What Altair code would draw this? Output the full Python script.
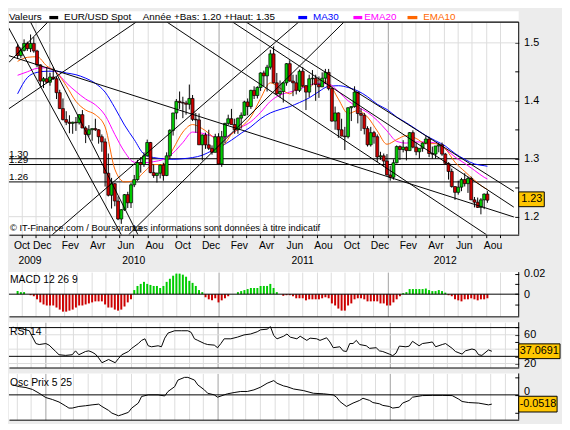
import altair as alt
import pandas as pd

FONT = "Liberation Sans"
W = 518
H_MAIN, H_MACD, H_RSI, H_OSC = 216, 45, 46, 47
GOLD = "#FFC600"
GREEN, RED = "#00cc00", "#cc0000"

# ---------------- data ----------------
first_week = "2009-10-24"
n_weeks = 146

opens = [1.4930, 1.4780, 1.4870, 1.4990, 1.4900, 1.4990, 1.4860, 1.4620, 1.4340, 1.4380,
         1.4320, 1.4410, 1.4380, 1.4140, 1.3865, 1.3675, 1.3630, 1.3610, 1.3630, 1.3620,
         1.3760, 1.3530, 1.3420, 1.3500, 1.3520, 1.3500, 1.3380, 1.3290, 1.2750, 1.2370,
         1.2570, 1.2270, 1.1960, 1.2120, 1.2380, 1.2240, 1.2550, 1.2640, 1.2935, 1.2900,
         1.3050, 1.3280, 1.2760, 1.2710, 1.2750, 1.2890, 1.2710, 1.3050, 1.3490, 1.3790,
         1.3990, 1.3970, 1.3960, 1.3940, 1.4040, 1.3680, 1.3670, 1.3240, 1.3410, 1.3240,
         1.3180, 1.3110, 1.3380, 1.2910, 1.3380, 1.3610, 1.3690, 1.3590, 1.3500, 1.3700,
         1.3750, 1.3980, 1.3900, 1.4180, 1.4090, 1.4230, 1.4480, 1.4430, 1.4580, 1.4810,
         1.4310, 1.4120, 1.4160, 1.4310, 1.4640, 1.4340, 1.4310, 1.4180, 1.4510, 1.4260,
         1.4150, 1.4380, 1.4390, 1.4280, 1.4240, 1.4390, 1.4490, 1.4210, 1.3650, 1.3790,
         1.3500, 1.3390, 1.3380, 1.3880, 1.3900, 1.4150, 1.3780, 1.3750, 1.3520, 1.3240,
         1.3450, 1.3380, 1.3030, 1.3050, 1.2960, 1.2720, 1.2680, 1.2930, 1.3210, 1.3160,
         1.3200, 1.3140, 1.3450, 1.3200, 1.3120, 1.3180, 1.3270, 1.3340, 1.3090, 1.3080,
         1.3220, 1.3240, 1.3080, 1.2920, 1.2780, 1.2520, 1.2420, 1.2510, 1.2640, 1.2570,
         1.2660, 1.2290, 1.2250, 1.2160, 1.2290, 1.2390]
closes = [1.4780, 1.4870, 1.4990, 1.4900, 1.4990, 1.4860, 1.4620, 1.4340, 1.4380, 1.4320,
          1.4410, 1.4380, 1.4140, 1.3865, 1.3675, 1.3630, 1.3610, 1.3630, 1.3620, 1.3760,
          1.3530, 1.3420, 1.3500, 1.3520, 1.3500, 1.3380, 1.3290, 1.2750, 1.2370, 1.2570,
          1.2270, 1.1960, 1.2120, 1.2380, 1.2240, 1.2550, 1.2640, 1.2935, 1.2900, 1.3050,
          1.3280, 1.2760, 1.2710, 1.2750, 1.2890, 1.2710, 1.3050, 1.3490, 1.3790, 1.3990,
          1.3970, 1.3960, 1.3940, 1.4040, 1.3680, 1.3670, 1.3240, 1.3410, 1.3240, 1.3180,
          1.3110, 1.3380, 1.2910, 1.3380, 1.3610, 1.3690, 1.3590, 1.3500, 1.3700, 1.3750,
          1.3980, 1.3900, 1.4180, 1.4090, 1.4230, 1.4480, 1.4430, 1.4580, 1.4810, 1.4310,
          1.4120, 1.4160, 1.4310, 1.4640, 1.4340, 1.4310, 1.4180, 1.4510, 1.4260, 1.4150,
          1.4380, 1.4390, 1.4280, 1.4240, 1.4390, 1.4490, 1.4210, 1.3650, 1.3790, 1.3500,
          1.3390, 1.3380, 1.3880, 1.3900, 1.4150, 1.3780, 1.3750, 1.3520, 1.3240, 1.3450,
          1.3380, 1.3030, 1.3050, 1.2960, 1.2720, 1.2680, 1.2930, 1.3210, 1.3160, 1.3200,
          1.3140, 1.3450, 1.3200, 1.3120, 1.3180, 1.3270, 1.3340, 1.3090, 1.3080, 1.3220,
          1.3240, 1.3080, 1.2920, 1.2780, 1.2520, 1.2420, 1.2510, 1.2640, 1.2570, 1.2660,
          1.2290, 1.2250, 1.2160, 1.2290, 1.2390, 1.2285]
highs = [1.4980, 1.4920, 1.5060, 1.5020, 1.5144, 1.5100, 1.4880, 1.4630, 1.4410, 1.4580,
         1.4480, 1.4580, 1.4410, 1.4190, 1.4040, 1.3820, 1.3750, 1.3640, 1.3720, 1.3770,
         1.3840, 1.3560, 1.3580, 1.3520, 1.3690, 1.3510, 1.3420, 1.3350, 1.3090, 1.2670,
         1.2580, 1.2350, 1.2130, 1.2390, 1.2430, 1.2580, 1.2720, 1.2980, 1.3030, 1.3110,
         1.3330, 1.3290, 1.2900, 1.2760, 1.2900, 1.2930, 1.3110, 1.3510, 1.3790, 1.4030,
         1.4160, 1.4070, 1.4000, 1.4280, 1.4100, 1.3790, 1.3780, 1.3420, 1.3450, 1.3500,
         1.3230, 1.3430, 1.3440, 1.3480, 1.3620, 1.3760, 1.3860, 1.3690, 1.3710, 1.3800,
         1.4000, 1.4040, 1.4190, 1.4250, 1.4250, 1.4490, 1.4520, 1.4620, 1.4880, 1.4940,
         1.4480, 1.4350, 1.4320, 1.4650, 1.4700, 1.4450, 1.4450, 1.4540, 1.4580, 1.4270,
         1.4450, 1.4530, 1.4450, 1.4420, 1.4490, 1.4550, 1.4550, 1.4220, 1.3900, 1.3800,
         1.3690, 1.3550, 1.3890, 1.3900, 1.4250, 1.4150, 1.3870, 1.3790, 1.3560, 1.3550,
         1.3480, 1.3420, 1.3120, 1.3090, 1.3080, 1.2880, 1.2990, 1.3230, 1.3230, 1.3320,
         1.3210, 1.3460, 1.3490, 1.3280, 1.3180, 1.3280, 1.3390, 1.3380, 1.3210, 1.3220,
         1.3270, 1.3280, 1.3100, 1.2940, 1.2830, 1.2520, 1.2620, 1.2670, 1.2750, 1.2690,
         1.2690, 1.2340, 1.2330, 1.2320, 1.2400, 1.2440]
lows = [1.4720, 1.4740, 1.4850, 1.4860, 1.4840, 1.4830, 1.4580, 1.4250, 1.4220, 1.4300,
        1.4260, 1.4360, 1.4030, 1.3860, 1.3660, 1.3580, 1.3440, 1.3430, 1.3480, 1.3590,
        1.3530, 1.3270, 1.3380, 1.3310, 1.3480, 1.3260, 1.3120, 1.2520, 1.2350, 1.2140,
        1.2180, 1.1940, 1.1876, 1.2100, 1.2150, 1.2150, 1.2510, 1.2620, 1.2760, 1.2860,
        1.3040, 1.2750, 1.2670, 1.2590, 1.2660, 1.2620, 1.2700, 1.3000, 1.3400, 1.3680,
        1.3860, 1.3700, 1.3760, 1.3850, 1.3650, 1.3450, 1.3240, 1.2970, 1.3170, 1.3150,
        1.3070, 1.3110, 1.2900, 1.2860, 1.3270, 1.3580, 1.3590, 1.3430, 1.3430, 1.3520,
        1.3740, 1.3750, 1.3860, 1.4030, 1.4040, 1.4170, 1.4250, 1.4160, 1.4540, 1.4300,
        1.4100, 1.4060, 1.3970, 1.4260, 1.4330, 1.4080, 1.4110, 1.4150, 1.4230, 1.3840,
        1.4060, 1.4270, 1.4000, 1.4050, 1.4240, 1.4290, 1.4180, 1.3640, 1.3500, 1.3360,
        1.3390, 1.3150, 1.3350, 1.3650, 1.3880, 1.3610, 1.3480, 1.3420, 1.3210, 1.3210,
        1.3260, 1.2940, 1.2980, 1.2860, 1.2710, 1.2620, 1.2640, 1.2920, 1.2980, 1.3110,
        1.2970, 1.3140, 1.3180, 1.3060, 1.3000, 1.3120, 1.3250, 1.3030, 1.3000, 1.3000,
        1.3110, 1.3050, 1.2910, 1.2640, 1.2500, 1.2290, 1.2380, 1.2440, 1.2520, 1.2410,
        1.2290, 1.2160, 1.2150, 1.2040, 1.2130, 1.2240]

# moving averages read every 3 weeks
ma_weeks = list(range(0, 145, 3)) + [145]
ma30 = [1.412, 1.440, 1.449, 1.451, 1.451, 1.448, 1.445, 1.439, 1.430, 1.415,
        1.388, 1.358, 1.333, 1.308, 1.302, 1.300, 1.299, 1.300, 1.302, 1.306,
        1.314, 1.322, 1.332, 1.344, 1.355, 1.369, 1.379, 1.385, 1.390, 1.397,
        1.405, 1.416, 1.425, 1.426, 1.423, 1.417, 1.407, 1.394, 1.385, 1.372,
        1.362, 1.351, 1.340, 1.331, 1.322, 1.309, 1.299, 1.291, 1.288, 1.287]
ema20 = [1.444, 1.450, 1.456, 1.457, 1.449, 1.431, 1.416, 1.403, 1.393, 1.375,
         1.342, 1.312, 1.294, 1.293, 1.295, 1.299, 1.310, 1.328, 1.346, 1.344,
         1.339, 1.335, 1.343, 1.354, 1.364, 1.380, 1.399, 1.410, 1.415, 1.420,
         1.427, 1.430, 1.429, 1.416, 1.400, 1.389, 1.380, 1.366, 1.348, 1.330,
         1.327, 1.329, 1.329, 1.327, 1.317, 1.303, 1.292, 1.280, 1.268, 1.265]
ema10 = [1.468, 1.475, 1.476, 1.460, 1.449, 1.426, 1.399, 1.384, 1.376, 1.355,
         1.282, 1.260, 1.262, 1.277, 1.290, 1.290, 1.317, 1.346, 1.359, 1.352,
         1.339, 1.322, 1.342, 1.355, 1.372, 1.404, 1.431, 1.422, 1.412, 1.425,
         1.424, 1.436, 1.430, 1.403, 1.378, 1.383, 1.372, 1.348, 1.325, 1.333,
         1.340, 1.335, 1.326, 1.326, 1.317, 1.294, 1.278, 1.263, 1.250, 1.247]

macd_hist = [0.003, 0.002, 0.002, 0.0, -0.001, -0.002, -0.005, -0.008, -0.010, -0.011,
             -0.011, -0.011, -0.013, -0.015, -0.017, -0.017, -0.016, -0.015, -0.013, -0.011,
             -0.011, -0.010, -0.009, -0.008, -0.007, -0.007, -0.007, -0.010, -0.013, -0.013,
             -0.015, -0.016, -0.015, -0.012, -0.008, -0.005, 0.004, 0.008, 0.010, 0.012,
             0.010, 0.009, 0.008, 0.008, 0.006, 0.008, 0.012, 0.015, 0.018, 0.020,
             0.020, 0.019, 0.017, 0.013, 0.011, 0.008, 0.004, 0.002, -0.003, -0.005,
             -0.006, -0.004, -0.008, -0.006, -0.004, -0.002, 0.0, 0.0, 0.002, 0.003,
             0.004, 0.005, 0.006, 0.006, 0.006, 0.008, 0.008, 0.008, 0.010, 0.006,
             0.002, 0.0, -0.0016, -0.001, -0.001, -0.002, -0.004, -0.004, -0.004, -0.006,
             -0.005, -0.005, -0.005, -0.005, -0.004, -0.003, -0.004, -0.009, -0.011, -0.014,
             -0.016, -0.016, -0.011, -0.009, -0.005, -0.004, -0.004, -0.005, -0.007, -0.007,
             -0.007, -0.007, -0.009, -0.009, -0.011, -0.011, -0.008, -0.005, -0.002, 0.001,
             0.002, 0.005, 0.005, 0.005, 0.005, 0.005, 0.0055, 0.004, 0.003, 0.003,
             0.004, 0.003, 0.0015, -0.001, -0.002, -0.005, -0.006, -0.007, -0.005, -0.005,
             -0.004, -0.005, -0.006, -0.005, -0.005, -0.004]

rsi_weeks = [0, 3, 5, 7, 8, 10, 11, 13, 14, 16, 18, 19, 20, 21, 22, 23, 24, 25, 26, 27,
             28, 29, 31, 32, 33, 35, 36, 38, 39, 40, 41, 42, 44, 45, 46, 47, 49, 51, 53, 54,
             55, 56, 58, 59, 61, 62, 63, 64, 66, 68, 70, 72, 74, 75, 77, 78, 79, 80, 82, 83,
             84, 86, 87, 89, 90, 92, 93, 95, 96, 97, 99, 100, 101, 102, 103, 104, 105, 107, 108, 110,
             111, 112, 114, 115, 116, 117, 119, 120, 121, 123, 124, 126, 127, 128, 130, 131, 133, 134, 136, 137,
             139, 140, 141, 142, 144, 145]
rsi_vals = [70.5, 68.0, 65.6, 47.8, 46.4, 47.8, 45.6, 36.7, 32.2, 31.3,
            32.2, 37.6, 32.2, 34.4, 36.7, 37.6, 35.8, 33.1, 27.8, 21.1,
            23.3, 25.6, 21.1, 26.9, 32.2, 36.7, 41.1, 47.8, 52.2, 54.4,
            44.7, 43.3, 44.7, 43.3, 55.3, 62.4, 65.6, 65.6, 65.6, 63.3,
            54.4, 52.2, 47.8, 46.4, 45.6, 42.0, 47.8, 54.4, 54.4, 56.7,
            59.8, 61.1, 64.2, 66.9, 67.8, 71.3, 58.9, 54.4, 58.0, 61.1,
            56.7, 54.4, 58.0, 52.2, 55.3, 54.4, 52.2, 55.8, 50.0, 42.0,
            43.3, 37.6, 36.7, 47.8, 47.8, 52.2, 46.4, 44.7, 41.1, 42.0,
            37.6, 36.7, 33.1, 30.9, 34.4, 44.2, 43.3, 44.2, 50.9, 44.7,
            47.8, 49.1, 50.0, 43.3, 46.4, 47.8, 41.1, 36.7, 33.1, 37.6,
            40.2, 38.9, 32.2, 31.3, 38.9, 37.07]

osc_weeks = [0, 2, 4, 6, 8, 10, 12, 14, 16, 17, 18, 20, 22, 24, 26, 27, 29, 30, 32, 33,
             35, 36, 38, 39, 41, 44, 46, 47, 49, 50, 52, 53, 55, 56, 58, 59, 61, 62, 64, 65,
             67, 69, 71, 73, 75, 77, 79, 80, 82, 83, 85, 88, 91, 94, 97, 98, 99, 101, 103, 105,
             106, 108, 109, 111, 112, 114, 115, 117, 118, 120, 121, 124, 127, 130, 133, 135, 136, 138, 141, 144,
             145]
osc_vals = [0.056, 0.046, 0.041, 0.030, 0.009, -0.015, -0.026, -0.040, -0.062, -0.074,
            -0.074, -0.065, -0.061, -0.056, -0.052, -0.065, -0.087, -0.102, -0.117, -0.111,
            -0.098, -0.074, -0.046, -0.009, 0.0, 0.0, -0.006, 0.019, 0.046, 0.083,
            0.098, 0.098, 0.083, 0.056, 0.028, 0.009, 0.0, -0.013, 0.0, 0.006,
            0.013, 0.019, 0.019, 0.028, 0.043, 0.065, 0.080, 0.065, 0.050, 0.046,
            0.033, 0.024, 0.009, 0.006, 0.0, -0.013, -0.037, -0.065, -0.046, -0.031,
            -0.019, -0.031, -0.043, -0.050, -0.059, -0.065, -0.074, -0.069, -0.046, -0.031,
            -0.013, -0.004, -0.003, -0.003, -0.004, -0.024, -0.037, -0.043, -0.046, -0.056,
            -0.0518]

levels = [1.30, 1.29, 1.26]
level_text = ["1.30", "1.29", "1.26"]

# trend lines: start / end (date, price)
tl_d1 = ["2009-09-28", "2009-11-20", "2009-10-05", "2009-10-05", "2009-10-05",
         "2010-01-07", "2010-06-21", "2010-09-12", "2011-03-02", "2011-02-01"]
tl_p1 = [1.5357, 1.5374, 1.4779, 1.3862, 1.4660, 1.1689, 1.1689, 1.5357, 1.5357, 1.5357]
tl_d2 = ["2010-06-05", "2010-07-11", "2012-09-30", "2010-07-07", "2009-12-28",
         "2011-06-23", "2011-09-29", "2012-08-02", "2012-09-30", "2012-09-30"]
tl_p2 = [1.1689, 1.1689, 1.1995, 1.5357, 1.5357, 1.5357, 1.5357, 1.1689, 1.2436, 1.2165]

first_month_label = ("2009-10-16", "Oct")
month_label_dates = ["2009-12-16", "2010-02-15", "2010-04-15", "2010-06-15", "2010-08-16",
                     "2010-10-16", "2010-12-16", "2011-02-15", "2011-04-15", "2011-06-15", "2011-08-16",
                     "2011-10-16", "2011-12-16", "2012-02-15", "2012-04-15", "2012-06-15", "2012-08-16"]
month_label_text = ["Dec", "Fev", "Avr", "Jun", "Aou"] + ["Oct", "Dec", "Fev", "Avr", "Jun", "Aou"] * 2
year_label_dates = ["2009-11-20", "2010-07-02", "2011-07-02", "2012-05-05"]
year_label_text = ["2009", "2010", "2011", "2012"]

last_price, last_price_text = 1.23, "1.23"
last_rsi, last_rsi_text = 37.0691, "37.0691"
last_osc, last_osc_text = -0.0518, "-0.0518"

# ---------------- tables ----------------
weeks = pd.date_range(first_week, periods=n_weeks, freq="7D").strftime("%Y-%m-%d").tolist()
candles = pd.DataFrame({"date": weeks, "open": opens, "high": highs, "low": lows, "close": closes})

ma_date = [weeks[k] for k in ma_weeks]
ma30_df = pd.DataFrame({"date": ma_date, "value": ma30})
ema20_df = pd.DataFrame({"date": ma_date, "value": ema20})
ema10_df = pd.DataFrame({"date": ma_date, "value": ema10})
macd_df = pd.DataFrame({"date": weeks, "v": macd_hist})
rsi_df = pd.DataFrame({"date": [weeks[k] for k in rsi_weeks], "v": rsi_vals})
osc_df = pd.DataFrame({"date": [weeks[k] for k in osc_weeks], "v": osc_vals})
lev_df = pd.DataFrame({"v": levels, "t": level_text})
tl_df = pd.DataFrame({"d1": tl_d1, "p1": tl_p1, "d2": tl_d2, "p2": tl_p2})
mlab0_df = pd.DataFrame({"date": [first_month_label[0]], "t": [first_month_label[1]]})
mlab_df = pd.DataFrame({"date": month_label_dates, "t": month_label_text})
ylab_df = pd.DataFrame({"date": year_label_dates, "t": year_label_text})
ONE = pd.DataFrame({"one": [0]})

# ---------------- scales / axes ----------------
X_SCALE = alt.Scale(type="utc", domain=[alt.DateTime(year=2009, month=10, date=16, utc=True),
                                        alt.DateTime(year=2012, month=9, date=30, utc=True)])
grid_months = [alt.DateTime(year=y, month=m, date=1, utc=True)
               for y in range(2009, 2013) for m in range(1, 13)
               if (2009, 11) <= (y, m) <= (2012, 9)]
GRID_COLOR = {"condition": {"test": "utcmonth(datum.value) === 0", "value": "#a0a0a0"},
              "value": "#dcdcdc"}


def x_axis(ticks):
    return alt.Axis(values=grid_months, grid=True, gridColor=GRID_COLOR, gridWidth=1,
                    labels=False, ticks=ticks, tickSize=3, tickColor="black",
                    domain=True, domainColor="black", domainWidth=1, title=None)


AX_MAIN = x_axis(True)
AX_SUB = x_axis(False)


def X(field, ax):
    return alt.X(f"{field}:T", scale=X_SCALE, axis=ax)


def y_axis(values, label_expr, baseline="middle"):
    return alt.Axis(orient="right", values=values, labelExpr=label_expr, tickSize=4,
                    tickColor="black", offset=-4, domain=False, grid=False, labelPadding=5,
                    labelFont=FONT, labelFontSize=11, labelColor="black", labelBaseline=baseline,
                    title=None)


Y_MAIN_SCALE = alt.Scale(domain=[1.1689, 1.5357], nice=False, zero=False)
Y_MAIN_AXIS = y_axis([1.2, 1.25, 1.3, 1.35, 1.4, 1.45, 1.5],
                     "abs(datum.value*10 - round(datum.value*10)) < 0.001 ? format(datum.value, '.1f') : ''")
Y_MACD_SCALE = alt.Scale(domain=[-0.0216, 0.0215], nice=False, zero=False)
Y_MACD_AXIS = y_axis([-0.01, 0, 0.01, 0.02],
                     "datum.value == 0.02 ? '0.02' : (datum.value == 0 ? '0' : '')")
Y_RSI_SCALE = alt.Scale(domain=[14.4, 77.4], nice=False, zero=False)
Y_RSI_AXIS = y_axis([20, 30, 40, 50, 60, 70],
                    "(datum.value == 20 || datum.value == 60) ? format(datum.value, 'd') : ''")
Y_OSC_SCALE = alt.Scale(domain=[-0.139, 0.12], nice=False, zero=False)
Y_OSC_AXIS = y_axis([-0.1, 0, 0.1], "datum.value == 0 ? '0' : ''", baseline="alphabetic")


def Y(field, scale, ax):
    return alt.Y(f"{field}:Q", scale=scale, axis=ax)


def ptext(txt, x, y, size=10, color="black"):
    return alt.Chart(ONE).mark_text(text=txt, font=FONT, fontSize=size, color=color,
                                    align="left", baseline="alphabetic").encode(
        x=alt.value(x), y=alt.value(y))


def swatch(x1, x2, color):
    return alt.Chart(ONE).mark_rect(color=color).encode(
        x=alt.value(x1), x2=alt.value(x2), y=alt.value(-6.3), y2=alt.value(-3))


def right_border(h):
    return alt.Chart(ONE).mark_rule(color="black", strokeWidth=1).encode(
        x=alt.value(W), y=alt.value(0), y2=alt.value(h))


def value_box(value, text, w, h, cx, tx, scale, ax):
    df = pd.DataFrame({"v": [value], "t": [text]})
    r = h / w
    path = f"M-1,{-r:.3f}L1,{-r:.3f}L1,{r:.3f}L-1,{r:.3f}Z"
    box = alt.Chart(df).mark_point(shape=path, size=w * w, filled=True, fill=GOLD, color=GOLD,
                                   stroke="black", strokeWidth=1, opacity=1).encode(
        x=alt.value(cx), y=Y("v", scale, ax))
    lab = alt.Chart(df).mark_text(font=FONT, fontSize=11, color="black", align="left",
                                  baseline="middle").encode(
        x=alt.value(tx), y=Y("v", scale, ax), text="t:N")
    return box + lab


def ma_line(df, color):
    return alt.Chart(df).mark_line(strokeWidth=1, clip=True, interpolate="monotone", color=color).encode(
        x=X("date", AX_MAIN), y=Y("value", Y_MAIN_SCALE, Y_MAIN_AXIS))


# ---------------- main panel ----------------
hgrid = alt.Chart(pd.DataFrame({"v": [1.2, 1.3, 1.4, 1.5]})).mark_rule(color="#dcdcdc").encode(
    y=Y("v", Y_MAIN_SCALE, Y_MAIN_AXIS))
lev_text = alt.Chart(lev_df).mark_text(font=FONT, fontSize=10, align="left", baseline="alphabetic",
                                       dy=-2, color="black").encode(
    x=alt.value(0), y=Y("v", Y_MAIN_SCALE, Y_MAIN_AXIS), text="t:N")
lev_rules = alt.Chart(lev_df).mark_rule(color="black", strokeWidth=1).encode(
    y=Y("v", Y_MAIN_SCALE, Y_MAIN_AXIS))
wicks = alt.Chart(candles).mark_rule(color="black", strokeWidth=1).encode(
    x=X("date", AX_MAIN), y=Y("low", Y_MAIN_SCALE, Y_MAIN_AXIS), y2="high:Q")
bodies = alt.Chart(candles).mark_bar(size=3, stroke="black", strokeWidth=0.7).encode(
    x=X("date", AX_MAIN), y=Y("open", Y_MAIN_SCALE, Y_MAIN_AXIS), y2="close:Q",
    color=alt.condition("datum.close >= datum.open", alt.value(GREEN), alt.value(RED)))
trend = alt.Chart(tl_df).mark_rule(color="black", strokeWidth=1, clip=True).encode(
    x=X("d1", AX_MAIN), x2="d2:T", y=Y("p1", Y_MAIN_SCALE, Y_MAIN_AXIS), y2="p2:Q")
mlabel0 = alt.Chart(mlab0_df).mark_text(font=FONT, fontSize=10.5, color="black", baseline="middle",
                                        align="left").encode(
    x=X("date", AX_MAIN), y=alt.value(H_MAIN + 12), text="t:N")
mlabels = alt.Chart(mlab_df).mark_text(font=FONT, fontSize=10.5, color="black", baseline="middle").encode(
    x=X("date", AX_MAIN), y=alt.value(H_MAIN + 12), text="t:N")
ylabels = alt.Chart(ylab_df).mark_text(font=FONT, fontSize=10.5, color="black", baseline="middle").encode(
    x=X("date", AX_MAIN), y=alt.value(H_MAIN + 27), text="t:N")

header_bg = alt.Chart(ONE).mark_rect(color="white").encode(
    x=alt.value(0), x2=alt.value(W), y=alt.value(-11), y2=alt.value(0))
header_line = alt.Chart(ONE).mark_rule(color="black", strokeWidth=1.2).encode(
    x=alt.value(0), x2=alt.value(W), y=alt.value(0))
HB = -2.5
header = (header_bg + header_line
          + ptext("Valeurs", 0, HB) + swatch(41, 50, "black") + ptext("EUR/USD Spot", 56, HB)
          + ptext("Année  +Bas: 1.20  +Haut: 1.35", 136, HB)
          + swatch(294, 303, "#0000ff") + ptext("MA30", 309, HB, color="#0000ff")
          + swatch(350, 359, "#ff00ff") + ptext("EMA20", 361, HB, color="#ff00ff")
          + swatch(405, 415, "#ff6600") + ptext("EMA10", 421, HB, color="#ff6600"))

copyright_ = (ptext("© IT-Finance.com / Boursorama", 1, 212.5, size=9.5)
              + ptext("Les informations sont données à titre indicatif", 126, 212.5, size=9.5))

main = alt.layer(
    hgrid, lev_text, lev_rules,
    ma_line(ma30_df, "#0000ff"), ma_line(ema20_df, "#ff00ff"), ma_line(ema10_df, "#ff6600"),
    wicks, bodies, trend, copyright_,
    mlabel0, mlabels, ylabels, header, right_border(H_MAIN),
    value_box(last_price, last_price_text, 26, 15, W + 13, W + 2.5, Y_MAIN_SCALE, Y_MAIN_AXIS),
).properties(width=W, height=H_MAIN)

# ---------------- MACD ----------------
macd_zero = alt.Chart(pd.DataFrame({"v": [0.0]})).mark_rule(color="black").encode(
    y=Y("v", Y_MACD_SCALE, Y_MACD_AXIS))
macd_bars = alt.Chart(macd_df).mark_bar(size=2).encode(
    x=X("date", AX_SUB), y=Y("v", Y_MACD_SCALE, Y_MACD_AXIS), y2=alt.datum(0),
    color=alt.condition("datum.v >= 0", alt.value(GREEN), alt.value(RED)))
macd = alt.layer(
    ptext("MACD 12 26 9", 1, 11, size=10.5), macd_bars, macd_zero, right_border(H_MACD)
).properties(width=W, height=H_MACD)

# ---------------- RSI ----------------
rsi_grid = alt.Chart(pd.DataFrame({"v": [20, 40, 60]})).mark_rule(color="#dcdcdc").encode(
    y=Y("v", Y_RSI_SCALE, Y_RSI_AXIS))
rsi_lvls = alt.Chart(pd.DataFrame({"v": [30, 70]})).mark_rule(color="black").encode(
    y=Y("v", Y_RSI_SCALE, Y_RSI_AXIS))
rsi_line = alt.Chart(rsi_df).mark_line(color="black", strokeWidth=1).encode(
    x=X("date", AX_SUB), y=Y("v", Y_RSI_SCALE, Y_RSI_AXIS))
rsi = alt.layer(
    rsi_grid, ptext("RSI 14", 1, 13, size=10.5), rsi_lvls, rsi_line, right_border(H_RSI),
    value_box(last_rsi, last_rsi_text, 42, 15, W + 21, W + 1, Y_RSI_SCALE, Y_RSI_AXIS),
).properties(width=W, height=H_RSI)

# ---------------- Osc ----------------
osc_zero = alt.Chart(pd.DataFrame({"v": [0.0]})).mark_rule(color="black").encode(
    y=Y("v", Y_OSC_SCALE, Y_OSC_AXIS))
osc_line = alt.Chart(osc_df).mark_line(color="black", strokeWidth=1).encode(
    x=X("date", AX_SUB), y=Y("v", Y_OSC_SCALE, Y_OSC_AXIS))
osc = alt.layer(
    ptext("Osc Prix 5 25", 1, 13, size=10.5), osc_zero, osc_line, right_border(H_OSC),
    value_box(last_osc, last_osc_text, 39, 16, W + 19.5, W + 1, Y_OSC_SCALE, Y_OSC_AXIS),
).properties(width=W, height=H_OSC)

lower = alt.vconcat(macd, rsi, osc, spacing=6, bounds="flush")
chart = alt.vconcat(main, lower, spacing=38, bounds="flush").properties(
    padding={"left": 0, "top": 0, "right": 0, "bottom": 0}
).configure(background="#ececec").configure_view(fill="white", stroke=None)

chart.save("out.html", embed_options={"renderer": "svg", "actions": False})
